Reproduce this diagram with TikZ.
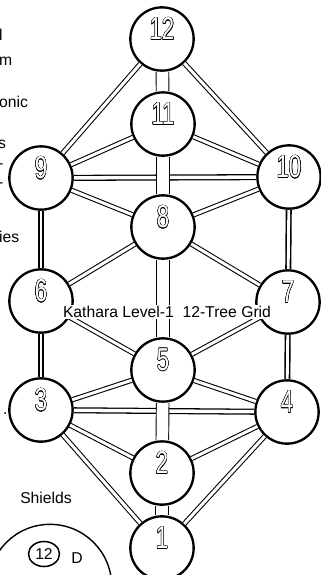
\documentclass[tikz,border=0pt]{standalone}
\usepackage{fontspec}
\setmainfont{Liberation Sans}
\usepackage{graphicx}
\usepackage{contour}
\contourlength{0.45pt}
\usepackage{tikz}
\usetikzlibrary{positioning}
\usetikzlibrary{shapes.geometric}
\newcommand{\hollow}[1]{\scalebox{0.7}[1]{\contour{black}{#1}}}

\begin{document}
\begin{tikzpicture}[x=0.03cm, y=-0.03cm,
ball/.style ={shape=circle, draw, line width=2pt, fill=white, minimum size=1.9cm, inner sep=0pt,
  label={[yshift=8.5pt, text=white, font=\fontsize{27}{27}\selectfont]center:\hollow{#1}}},
pipe/.style ={draw, line width=0.9pt, double=white, double distance=2.6pt},
bar/.style ={draw, line width=1.1pt, double=white, double distance=3pt},
post/.style ={draw, line width=1.4pt, double=white, double distance=2.4pt},
trunk/.style ={draw, line width=0.8pt, double=white, double distance=10pt},
words/.style ={font=\fontsize{13.4}{16}\selectfont},
auto]
\useasboundingbox (0,0) rectangle (321,575);
\node[ball=12] (s12) at (162, 39) { };
\node[ball=11] (s11) at (163, 124) { };
\node[ball=9] (s9) at (41, 178) { };
\node[ball=10] (s10) at (289, 177) { };
\node[ball=8] (s8) at (163, 227) { };
\node[ball=6] (s6) at (41, 301) { };
\node[ball=7] (s7) at (288, 302) { };
\node[ball=5] (s5) at (163, 370) { };
\node[ball=3] (s3) at (41, 410) { };
\node[ball=4] (s4) at (287, 412) { };
\node[ball=2] (s2) at (162, 473) { };
\node[ball=1] (s1) at (162, 548) { };
%\draw[help lines] (0,0) grid (321,575);
\draw[bar] (s9) -- (s10);
\draw[bar] (s3) -- (s4);
\draw[trunk] (s12) -- (s11);
\draw[trunk] (s11) -- (s8);
\draw[trunk] (s8) -- (s5);
\draw[trunk] (s5) -- (s2);
\draw[trunk] (s2) -- (s1);
\draw[post] (s9) -- (s6);
\draw[post] (s6) -- (s3);
\draw[post] (s10) -- (s7);
\draw[post] (s7) -- (s4);
\draw[pipe] (s12) -- (s9);
\draw[pipe] (s12) -- (s10);
\draw[pipe] (s11) -- (s9);
\draw[pipe] (s11) -- (s10);
\draw[pipe] (s9) -- (s8);
\draw[pipe] (s10) -- (s8);
\draw[pipe] (s8) -- (s6);
\draw[pipe] (s8) -- (s7);
\draw[pipe] (s6) -- (s5);
\draw[pipe] (s7) -- (s5);
\draw[pipe] (s5) -- (s3);
\draw[pipe] (s5) -- (s4);
\draw[pipe] (s3) -- (s2);
\draw[pipe] (s3) -- (s1);
\draw[pipe] (s4) -- (s2);
\draw[pipe] (s4) -- (s1);
\node[words, fill=white, inner sep=1pt] (title) at (167, 312) {Kathara Level-1\ \ 12-Tree Grid};
\node[words, anchor=base west, inner sep=0pt] (cut1) at (-1, 40) {l};
\node[words, anchor=base west, inner sep=0pt] (cut2) at (-1, 65) {m};
\node[words, anchor=base west, inner sep=0pt] (cut3) at (-1, 107) {onic};
\node[words, anchor=base west, inner sep=0pt] (cut4) at (-2, 148) {s};
\node[words, anchor=base west, inner sep=0pt] (cut5) at (-2, 168) {-};
\node[words, anchor=base west, inner sep=0pt] (cut6) at (-2, 187) {-};
\node[words, anchor=base west, inner sep=0pt] (cut7) at (-1, 242) {ies};
\node[words, anchor=base west, inner sep=0pt] (cut8) at (3, 414) {.};
\node[words] (shields) at (46, 498) {Shields};
\node[shape=circle, draw, line width=1.2pt, minimum size=3.7cm] (shield) at (50, 586) { };
\node[shape=ellipse, draw, line width=1.3pt, minimum width=0.93cm, minimum height=0.75cm, inner sep=0pt, words] (d12) at (44, 554) {12};
\node[words] (dlabel) at (77, 558) {D};
\end{tikzpicture}
\end{document}
